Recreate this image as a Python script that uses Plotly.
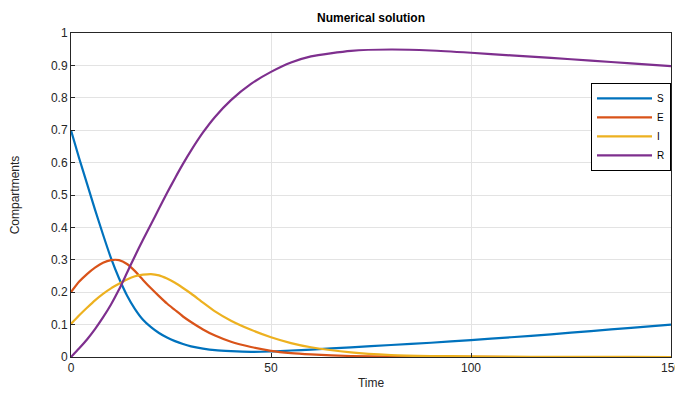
import plotly.graph_objects as go

t = [0, 2, 4, 6, 8, 10, 12, 14, 16, 18, 20, 22, 24, 26, 28, 30, 33, 36, 40, 45, 50, 55, 60,
     70, 80, 90, 100, 110, 120, 130, 140, 150]
S = [0.70, 0.615, 0.535, 0.455, 0.378, 0.305, 0.243, 0.19, 0.148, 0.115, 0.092, 0.074, 0.06, 0.049,
     0.04, 0.033, 0.026, 0.021, 0.018, 0.016, 0.017, 0.02, 0.023, 0.03, 0.037, 0.044, 0.052, 0.061,
     0.07, 0.08, 0.09, 0.10]
E = [0.20, 0.232, 0.256, 0.276, 0.291, 0.299, 0.299, 0.287, 0.265, 0.238, 0.212, 0.188, 0.165, 0.145,
     0.125, 0.108, 0.085, 0.066, 0.047, 0.031, 0.019, 0.012, 0.008, 0.003, 0.001, 0.0005, 0.0002,
     0.0, 0.0, 0.0, 0.0, 0.0]
I = [0.102, 0.128, 0.152, 0.175, 0.195, 0.212, 0.226, 0.239, 0.249, 0.254, 0.256, 0.252, 0.242, 0.229,
     0.213, 0.196, 0.168, 0.141, 0.112, 0.084, 0.061, 0.043, 0.030, 0.014, 0.006, 0.003, 0.002, 0.001,
     0.0005, 0.0002, 0.0001, 0.0]
R = [0.0, 0.026, 0.054, 0.086, 0.122, 0.162, 0.208, 0.26, 0.312, 0.362, 0.41, 0.458, 0.506, 0.552, 0.596,
     0.637, 0.693, 0.741, 0.793, 0.843, 0.88, 0.909, 0.928, 0.945, 0.949, 0.946, 0.939, 0.931, 0.923,
     0.915, 0.906, 0.898]

names = ["S", "E", "I", "R"]
series = [S, E, I, R]
colors = ["#0072BD", "#D95319", "#EDB120", "#7E2F8E"]
x_ticks = [0, 50, 100, 150]
y_ticks = [0, 0.1, 0.2, 0.3, 0.4, 0.5, 0.6, 0.7, 0.8, 0.9, 1]
y_tick_text = ["0", "0.1", "0.2", "0.3", "0.4", "0.5", "0.6", "0.7", "0.8", "0.9", "1"]

fig = go.Figure()
for n, y, c in zip(names, series, colors):
    fig.add_trace(go.Scatter(x=t, y=y, name=n, mode="lines",
                             line=dict(color=c, width=2.2, shape="spline", smoothing=0.6)))

# the page body has an 8px default margin, so the figure is 8px smaller than the window
W, H = 675, 388
font = "Liberation Sans, Arial, sans-serif"
fig.update_layout(
    width=W, height=H,
    margin=dict(l=63, r=12, t=25, b=39, autoexpand=False),
    paper_bgcolor="white", plot_bgcolor="white",
    font=dict(family=font, size=12, color="#262626"),
    title=dict(text="<b>Numerical solution</b>", x=0.5, xanchor="center", xref="paper",
               yref="container", y=1 - 10 / H, yanchor="middle", automargin=False,
               font=dict(size=12, color="#000000")),
    showlegend=True,
    legend=dict(x=1, xanchor="right", y=0.846, yanchor="top",
                bgcolor="white", bordercolor="#000000", borderwidth=1,
                font=dict(size=10, color="#000000"), tracegroupgap=0,
                itemwidth=55),
)
fig.update_xaxes(range=[0, 150], tickvals=x_ticks, automargin=False,
                 showgrid=True, gridcolor="#e3e3e3", gridwidth=1,
                 showline=True, linecolor="#262626", linewidth=1, mirror=True,
                 ticks="inside", ticklen=4, tickcolor="#262626", zeroline=False,
                 title=dict(text="Time", font=dict(size=12), standoff=4))
fig.update_yaxes(range=[0, 1], tickvals=y_ticks, ticktext=y_tick_text, automargin=False,
                 showgrid=True, gridcolor="#e3e3e3", gridwidth=1,
                 showline=True, linecolor="#262626", linewidth=1, mirror=True,
                 ticks="inside", ticklen=4, tickcolor="#262626", zeroline=False,
                 title=dict(text="Compartments", font=dict(size=12), standoff=28))

fig.write_html("out.html")
